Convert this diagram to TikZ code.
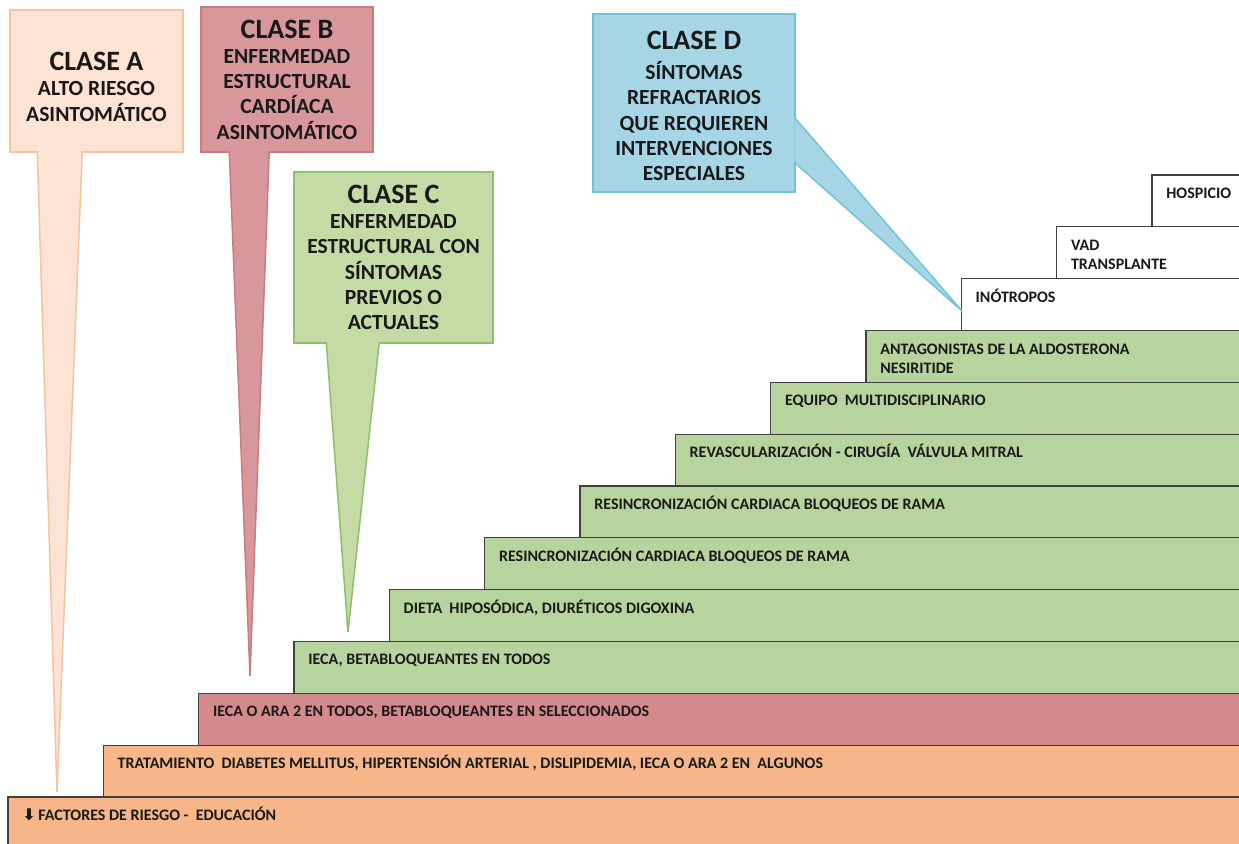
\documentclass[tikz,border=0pt]{standalone}
\usepackage{fontspec}
\setmainfont{Carlito}
\newfontfamily\arrowfont{DejaVu Sans}
\usetikzlibrary{calc}
\definecolor{aFill}{HTML}{FCE3D3}
\definecolor{aLine}{HTML}{F5C3A2}
\definecolor{bFill}{HTML}{D8989B}
\definecolor{bLine}{HTML}{C97C80}
\definecolor{cFill}{HTML}{C5DBA5}
\definecolor{cLine}{HTML}{8DC06B}
\definecolor{dFill}{HTML}{A6D6E6}
\definecolor{dLine}{HTML}{71C3DB}
\definecolor{stOrange}{HTML}{F6B68A}
\definecolor{stPink}{HTML}{D48A8D}
\definecolor{stGreen}{HTML}{B8D49E}
\newcommand\clsT[1]{{\fontsize{14}{12.75}\selectfont #1}}

\begin{document}
\begin{tikzpicture}
[x=0.5pt,y=-0.5pt,
 cls/.style={inner sep=0pt,align=center,line width=0.75pt,text=black!90,font=\bfseries\fontsize{10.8}{12.6}\selectfont},
 tail/.style={line width=0.75pt},
 lbl/.style={anchor=north west,inner sep=0pt,align=left,text=black!90,font=\bfseries\fontsize{8}{9.5}\selectfont,execute at begin node=\vphantom{Á}},
 stp/.style={draw=black!75,line width=0.6pt}]
\clip (0,0) rectangle (1239,844);
\foreach \i/\c/\o/\t in {12/white/9.5/HOSPICIO,
  11/white/12.5/{VAD\\TRANSPLANTE},
  10/white/9.5/INÓTROPOS,
  9/stGreen/13/{ANTAGONISTAS DE LA ALDOSTERONA\\NESIRITIDE},
  8/stGreen/9.5/EQUIPO~ MULTIDISCIPLINARIO,
  7/stGreen/9.5/REVASCULARIZACIÓN - CIRUGÍA~ VÁLVULA MITRAL,
  6/stGreen/9.5/RESINCRONIZACIÓN CARDIACA BLOQUEOS DE RAMA,
  5/stGreen/9.5/RESINCRONIZACIÓN CARDIACA BLOQUEOS DE RAMA,
  4/stGreen/9.5/{DIETA~ HIPOSÓDICA, DIURÉTICOS DIGOXINA},
  3/stGreen/9.5/{IECA, BETABLOQUEANTES EN TODOS},
  2/stPink/9.5/{IECA O ARA 2 EN TODOS, BETABLOQUEANTES EN SELECCIONADOS},
  1/stOrange/9.5/{TRATAMIENTO~ DIABETES MELLITUS, HIPERTENSIÓN ARTERIAL , DISLIPIDEMIA, IECA O ARA 2 EN~ ALGUNOS},
  0/stOrange/9.5/{{\arrowfont ⬇}\,FACTORES DE RIESGO -~ EDUCACIÓN}}{
  \pgfmathsetmacro\l{8+95.33*\i}
  \pgfmathsetmacro\u{797-51.83*\i}
  \pgfmathsetmacro\b{\i==0 ? 850 : \u+51.83}
  \draw[stp,fill=\c] (\l,\u) rectangle (1250,\b);
  \node[lbl] (s\i) at (\l+14,\u+\o) {\t};
}
\node[cls,fill=aFill,draw=aLine,minimum width=86.5pt,minimum height=71pt] (A) at (96.5,81) {\rule{0pt}{15pt}\clsT{CLASE A}\\ALTO RIESGO\\ASINTOMÁTICO};
\node[cls,fill=bFill,draw=bLine,minimum width=86pt,minimum height=72.5pt] (B) at (287,79.5) {\clsT{CLASE B}\\ENFERMEDAD\\ESTRUCTURAL\\CARDÍACA\\ASINTOMÁTICO};
\node[cls,fill=cFill,draw=cLine,minimum width=99.5pt,minimum height=85.5pt] (C) at (393.5,257.5) {\clsT{CLASE C}\\ENFERMEDAD\\ESTRUCTURAL CON\\SÍNTOMAS\\PREVIOS O\\ACTUALES};
\node[cls,fill=dFill,draw=dLine,minimum width=101pt,minimum height=89pt] (D) at (694,103) {\rule{0pt}{12pt}\clsT{CLASE D}\\[2.5pt]SÍNTOMAS\\REFRACTARIOS\\QUE REQUIEREN\\INTERVENCIONES\\ESPECIALES};
\coordinate (tA) at (57,792);
\coordinate (tB) at (250,676);
\coordinate (tC) at (348,632);
\coordinate (tD) at (962,311);
\filldraw[tail,fill=aFill,draw=aLine] ($(A.south west)+(28,-1.5)$) -- (tA) -- ($(A.south west)+(73,-1.5)$);
\filldraw[tail,fill=bFill,draw=bLine] ($(B.south west)+(29,-1.5)$) -- (tB) -- ($(B.south west)+(69,-1.5)$);
\filldraw[tail,fill=cFill,draw=cLine] ($(C.south west)+(33,-1.5)$) -- (tC) -- ($(C.south west)+(86,-1.5)$);
\filldraw[tail,fill=dFill,draw=dLine] ($(D.north east)+(-1.5,104)$) -- (tD) -- ($(D.north east)+(-1.5,149)$);
\end{tikzpicture}
\end{document}
